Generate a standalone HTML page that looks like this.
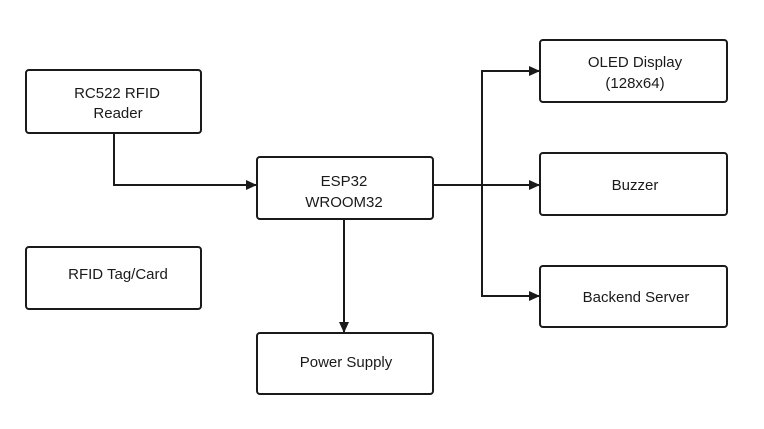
<!DOCTYPE html>
<html><head><meta charset="utf-8"><style>
body{margin:0;background:#fff;}
svg text{font-family:"Liberation Sans",sans-serif;font-size:15px;fill:#1a1a1a;text-anchor:middle;}
</style></head><body>
<svg width="764" height="424" viewBox="0 0 764 424" xmlns="http://www.w3.org/2000/svg">
<defs><marker id="a" markerWidth="10" markerHeight="10" refX="10" refY="5" orient="auto" markerUnits="userSpaceOnUse"><path d="M0,0 L11,5 L0,10 z" fill="#1a1a1a"/></marker></defs>
<g fill="none" stroke="#1a1a1a" stroke-width="2">
<rect x="26" y="70" width="175" height="63" rx="3"/>
<rect x="257" y="157" width="176" height="62" rx="3"/>
<rect x="26" y="247" width="175" height="62" rx="3"/>
<rect x="257" y="333" width="176" height="61" rx="3"/>
<rect x="540" y="40" width="187" height="62" rx="3"/>
<rect x="540" y="153" width="187" height="62" rx="3"/>
<rect x="540" y="266" width="187" height="61" rx="3"/>
<path d="M114,133 V185 H256" marker-end="url(#a)"/>
<path d="M344,219 V332" marker-end="url(#a)"/>
<path d="M433,185 H539" marker-end="url(#a)"/>
<path d="M539,71 H482 V296 H539" marker-end="url(#a)"/>
<path d="M482,71 H539" marker-end="url(#a)"/>
</g>
<text x="117" y="98">RC522 RFID</text>
<text x="118" y="118">Reader</text>
<text x="344" y="186">ESP32</text>
<text x="344" y="207">WROOM32</text>
<text x="118" y="279">RFID Tag/Card</text>
<text x="346" y="367">Power Supply</text>
<text x="635" y="67">OLED Display</text>
<text x="635" y="88">(128x64)</text>
<text x="635" y="190">Buzzer</text>
<text x="636" y="302">Backend Server</text>
</svg>
</body></html>
